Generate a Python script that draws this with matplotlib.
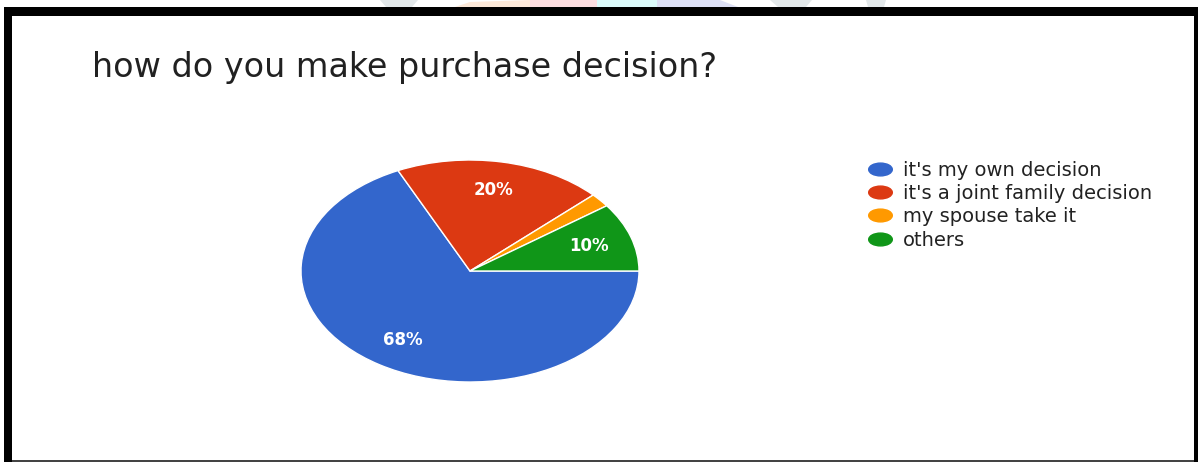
import matplotlib
matplotlib.use("Agg")
import matplotlib.pyplot as plt
from matplotlib.patches import Rectangle, Polygon
from matplotlib.lines import Line2D
from matplotlib.path import Path
from matplotlib.transforms import Affine2D

# Survey answers
title = "how do you make purchase decision?"
labels = ["it's my own decision", "it's a joint family decision",
          "my spouse take it", "others"]
shares = [68, 20, 2, 10]
colors = ["#3366CC", "#DC3912", "#FF9900", "#109618"]

W, H = 1198, 462
fig = plt.figure(figsize=(W / 100, H / 100), dpi=100)
fig.patch.set_facecolor("white")


def fx(px):
    return px / W


def fy(py):
    return 1 - py / H


def rect(x0, y0, x1, y1, color, z=10):
    fig.patches.append(Rectangle((fx(x0), fy(y1)), fx(x1) - fx(x0),
                                 fy(y0) - fy(y1), transform=fig.transFigure,
                                 facecolor=color, edgecolor="none", zorder=z))


def poly(pts, color):
    fig.patches.append(Polygon([(fx(x), fy(y)) for x, y in pts], closed=True,
                               transform=fig.transFigure, facecolor=color,
                               edgecolor="none", zorder=1))


# faint logo remnants above the frame
poly([(380, 0), (418, 0), (412, 7), (386, 7)], "#e3e8ea")
poly([(455, 7), (470, 2), (530, 0), (530, 7)], "#fde9d9")
poly([(530, 0), (597, 0), (597, 7), (530, 7)], "#fcdde0")
poly([(597, 0), (657, 0), (657, 7), (597, 7)], "#dcfbfb")
poly([(657, 0), (720, 0), (738, 7), (657, 7)], "#dde0f5")
poly([(770, 0), (812, 0), (806, 7), (778, 7)], "#e3e8ea")
poly([(866, 0), (886, 0), (884, 7), (868, 7)], "#e3e8ea")

# black frame
rect(4, 7, 1198, 16, "black")
rect(4, 7, 12, 462, "black")
rect(1194, 7, 1198, 462, "black")
rect(12, 460, 1194, 462, "#444444")

# pie, drawn as an ellipse (center 470,271; radii 169 x 111 px)
cx, cy, rx, ry = 470, 271, 169, 111
m = 1.1
ax = fig.add_axes([fx(cx - rx * m), fy(cy + ry * m),
                   2 * rx * m / W, 2 * ry * m / H])


def pct(p):
    return f"{p:.0f}%" if p >= 5 else ""


wedges, _, autotexts = ax.pie(
    shares, colors=colors, startangle=0, counterclock=False,
    autopct=pct, pctdistance=0.74,
    wedgeprops=dict(edgecolor="white", linewidth=1.0),
    textprops=dict(color="white", fontsize=12, fontweight="bold"))
ax.set_aspect("auto")
ax.set_xlim(-m, m)
ax.set_ylim(-m, m)
ax.axis("off")

fig.text(fx(92), fy(77), title, fontsize=24, color="#212121",
         ha="left", va="baseline")

# legend with flattened dot markers
dot = Path.unit_circle().transformed(Affine2D().scale(1.0, 13 / 24))
handles = [Line2D([], [], linestyle="none", marker=dot, markersize=17,
                  markerfacecolor=c, markeredgecolor=c) for c in colors]
fig.legend(handles, labels, loc="upper left",
           bbox_to_anchor=(fx(857), fy(151)), frameon=False,
           fontsize=14, labelcolor="#222222", handletextpad=0.45,
           labelspacing=0.22, handlelength=1.4, borderpad=0)

fig.savefig("out.png", dpi=100, facecolor="white")
